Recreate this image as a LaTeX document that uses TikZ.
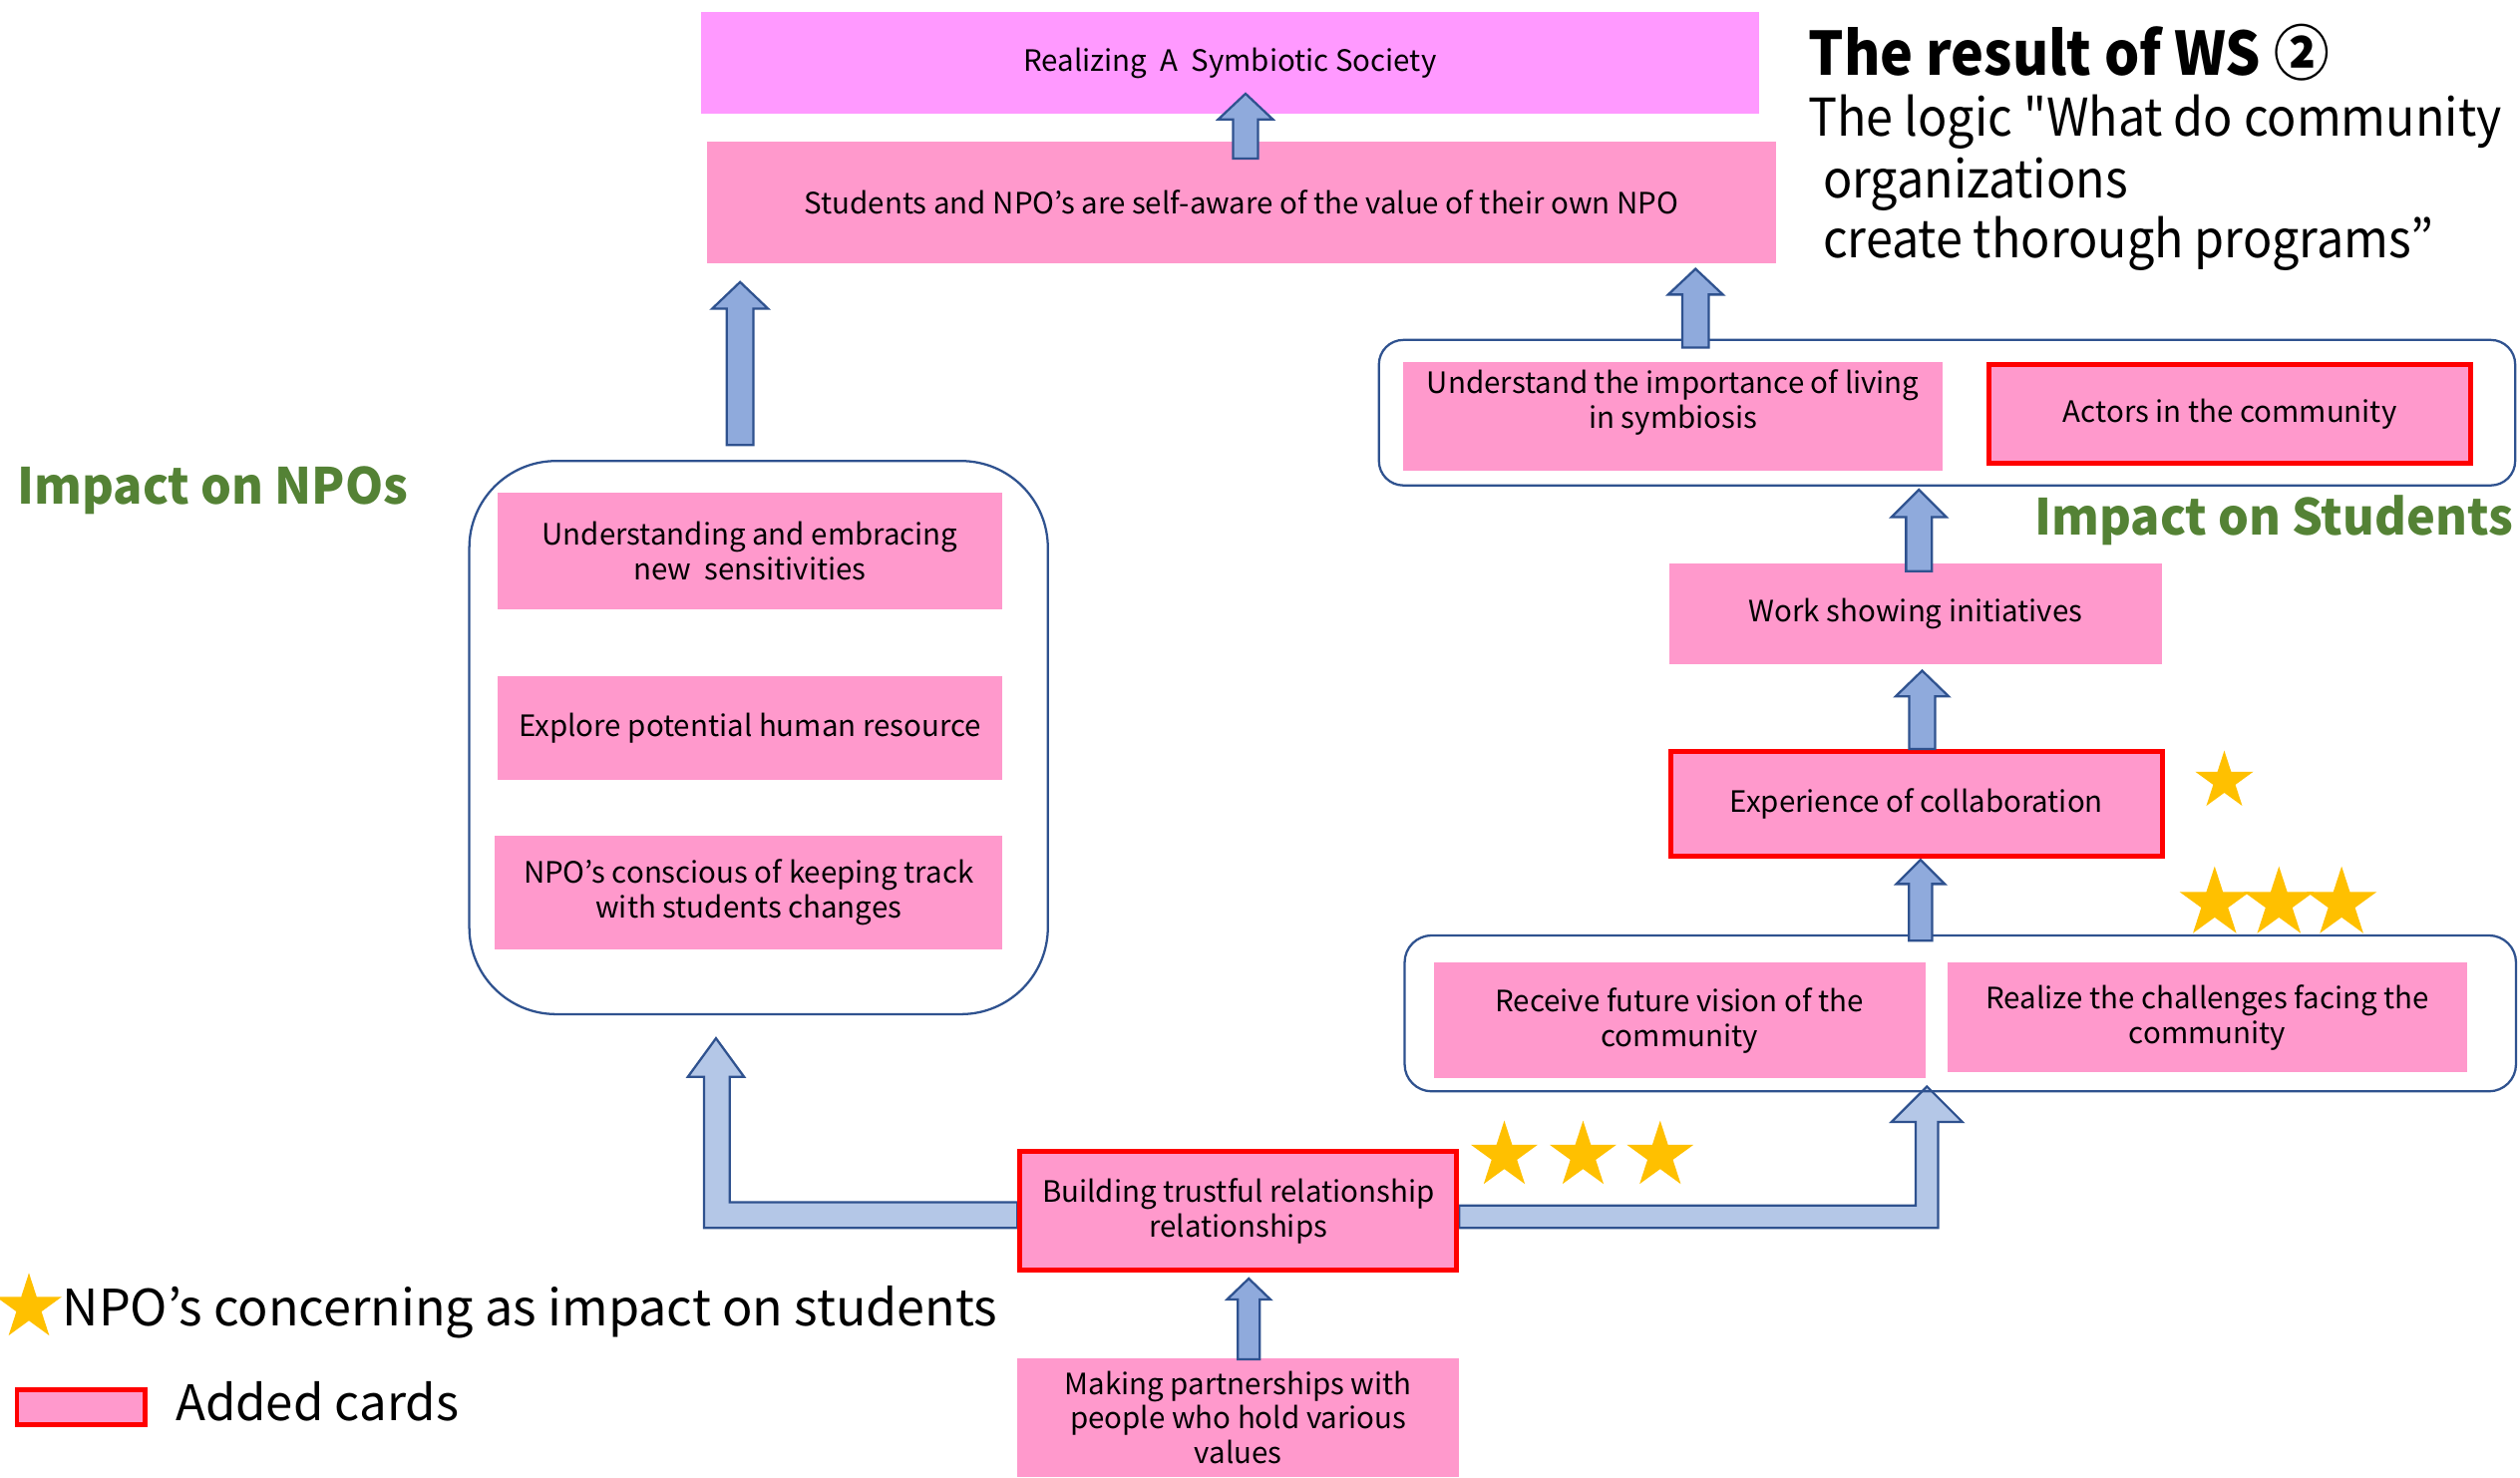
\documentclass[tikz,border=0pt]{standalone}
\usepackage{fontspec}
\setmainfont{Noto Sans CJK JP}
\newfontfamily\subfont{Noto Sans CJK JP}[Ligatures=TeXOff, FakeStretch=0.93]
\newfontfamily\titlefont{Noto Sans CJK JP}[FakeStretch=0.925]
\newfontfamily\headfont{Noto Sans CJK JP}[FakeStretch=0.975]
\usetikzlibrary{calc,shapes.geometric,backgrounds}
\definecolor{cardpink}{HTML}{FF99CC}
\definecolor{toppink}{HTML}{FF99FF}
\definecolor{addred}{HTML}{FF0000}
\definecolor{arrfill}{HTML}{8FAADC}
\definecolor{larrfill}{HTML}{B4C7E7}
\definecolor{arrline}{HTML}{2F528F}
\definecolor{headgreen}{HTML}{548235}
\definecolor{stargold}{HTML}{FFC000}
\def\U{0.025cm}
\newcommand\boxfont{\fontsize{13}{15.4}\selectfont}
% block up-arrow: style, bottom point, tip point, half shaft, half head, head length
\newcommand\blkup[6]{%
  \draw[#1] let \p1=#2, \p2=#3 in
  ({\x1-#4*\U},\y1) -- ({\x1-#4*\U},{\y2-#6*\U}) -- ({\x1-#5*\U},{\y2-#6*\U}) -- (\x1,\y2)
  -- ({\x1+#5*\U},{\y2-#6*\U}) -- ({\x1+#4*\U},{\y2-#6*\U}) -- ({\x1+#4*\U},\y1) -- cycle;}
\begin{document}
\begin{tikzpicture}[x=0.025cm, y=-0.025cm,
  card/.style={fill=cardpink, draw=none, inner sep=0pt, align=center, font=\boxfont},
  wh/.style 2 args={minimum width=#1*\U, minimum height=#2*\U},
  added/.style={draw=addred, line width=2.2pt},
  cont/.style={draw=arrline, line width=1pt, inner sep=0pt},
  starnode/.style={star, star points=5, star point ratio=2.618, fill=stargold, draw=none, inner sep=0pt},
  blk/.style={fill=arrfill, draw=arrline, line width=1pt, line join=miter},
  lblk/.style={fill=larrfill, draw=arrline, line width=1pt, line join=miter},
  headtxt/.style={font=\headfont\fontsize{22}{26}\selectfont\bfseries, text=headgreen, inner sep=0pt},
  plain/.style={inner sep=0pt}]
\path[use as bounding box] (0,0) rectangle (1568,919);

% containers
\node[cont, wh={360}{344.2}, rounded corners=1.35cm] (npoC) at (472,458.9) {};
\node[cont, wh={707}{90.5}, rounded corners=0.38cm] (stuC) at (1211.5,256.75) {};
\node[cont, wh={691.5}{97}, rounded corners=0.42cm] (recC) at (1219.75,630.5) {};

% cards
\node[card, fill=toppink, wh={658.6}{63}] (top) at (765.3,39.1) {Realizing\ \ A\ \ Symbiotic Society};
\node[card, wh={665}{76}] (stu) at (772.5,126) {Students and NPO’s are self-aware of the value of their own NPO};
\node[card, wh={314.1}{72.7}] (n1) at (466.65,343.05) {Understanding and embracing\\new\ \ sensitivities};
\node[card, wh={314.1}{64.8}] (n2) at (466.65,453.1) {Explore potential human resource};
\node[card, wh={315.7}{70.5}] (n3) at (465.85,555.25) {NPO’s conscious of keeping track\\with students changes};
\node[card, wh={336}{68}] (und) at (1041,259) {};
\node[plain, align=center, font=\boxfont] (undt) at ($(und.center)+(0,-8.5)$) {Understand the importance of living\\in symbiosis};
\node[card, added, wh={299.9}{61.9}] (act) at (1387.5,257.5) {Actors in the community};
\node[card, wh={306}{62.4}] (work) at (1192,381.8) {Work showing initiatives};
\node[card, added, wh={305.9}{64.9}] (exp) at (1192.5,500) {Experience of collaboration};
\node[card, wh={306}{72}] (rec) at (1045,635) {Receive future vision of the\\community};
\node[card, wh={323}{68}] (rea) at (1373.5,633) {Realize the challenges facing the\\community};
\node[card, added, wh={271.9}{73.9}] (bld) at (770.5,753.5) {Building trustful relationship\\relationships};
\node[card, wh={275}{74}] (mak) at (770.5,882) {Making partnerships with\\people who hold various\\values};

% L-shaped arrows (behind the card)
\begin{pgfonlayer}{background}
\draw[lblk] ($(bld.west)+(0,-5.5)$) -- (454,748) -- (454,670) -- (463,670) -- (445.5,646) -- (428,670) -- (438,670) -- (438,764) -- ($(bld.west)+(0,10.5)$) -- cycle;
\draw[lblk] ($(bld.east)+(0,-3.5)$) -- (1192,750) -- (1192,698) -- (1177,698) -- (1199,676) -- (1221,698) -- (1206,698) -- (1206,764) -- ($(bld.east)+(0,10.5)$) -- cycle;
\end{pgfonlayer}

% straight block arrows
\blkup{blk}{($(stu.north)+(2.5,11)$)}{($(top.south)+(0,-12.6)$)}{7.75}{17}{16}
\blkup{blk}{($(npoC.north)+(-11.5,-9.2)$)}{($(stu.south)+(0,11.2)$)}{8.3}{17.3}{16.5}
\blkup{blk}{($(stuC.north)+(-156.5,5.5)$)}{($(stu.south)+(0,3)$)}{8.25}{17}{16}
\blkup{blk}{($(work.north)+(2,5)$)}{($(stuC.south)+(0,2)$)}{8}{17}{17}
\blkup{blk}{($(exp.north)+(3.5,0)$)}{($(work.south)+(0,4)$)}{8}{16.5}{16}
\blkup{blk}{($(recC.north)+(-24.75,4)$)}{($(exp.south)+(0,1)$)}{7.25}{15}{15}
\blkup{blk}{($(mak.north)+(6.5,1)$)}{($(bld.south)+(0,3.5)$)}{6.8}{13.5}{13}

% stars
\node[starnode, minimum size=38*\U] (s1) at (1384,486) {};
\node[starnode, minimum size=46*\U] (s2) at (1378,562) {};
\node[starnode, minimum size=46*\U] (s3) at (1418,562) {};
\node[starnode, minimum size=46*\U] (s4) at (1457,562) {};
\node[starnode, minimum size=43.6*\U] (s5) at (936,719) {};
\node[starnode, minimum size=43.6*\U] (s6) at (985,719) {};
\node[starnode, minimum size=43.6*\U] (s7) at (1033,719) {};

% headings
\node[plain, anchor=base west, font=\titlefont\fontsize{26.5}{30}\selectfont\bfseries] (title) at (1125,47) {The result of WS ②};
\node[plain, anchor=base west, font=\subfont\fontsize{23}{27}\selectfont] (sub1) at (1125,84.8) {The logic "What do community};
\node[plain, anchor=base west, font=\subfont\fontsize{23}{27}\selectfont] (sub2) at (1134,123) {organizations};
\node[plain, anchor=base west, font=\subfont\fontsize{23}{27}\selectfont] (sub3) at (1134,160.3) {create thorough programs”};
\node[headtxt, anchor=base west] (hnpo) at (10.6,313.4) {Impact on NPOs};
\node[headtxt, anchor=base east] (hstu) at (1564,333) {Impact on Students};

% legend
\node[starnode, minimum size=43*\U] (ls) at (18,813.5) {};
\node[plain, anchor=base west, font=\fontsize{22.2}{26}\selectfont] (lt1) at (38.6,825) {NPO’s concerning as impact on students};
\node[card, added, wh={79.9}{21.9}] (lcard) at (50.5,875.5) {};
\node[plain, anchor=base west, font=\fontsize{21.7}{25}\selectfont] (lt2) at (109,884) {Added cards};
\end{tikzpicture}
\end{document}
